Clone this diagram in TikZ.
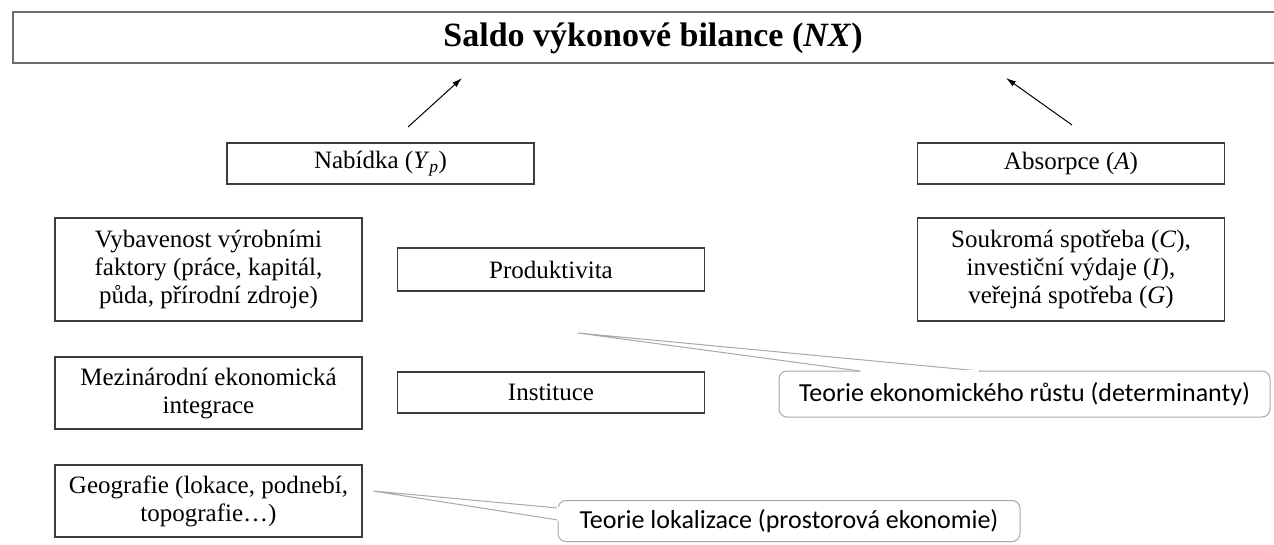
\documentclass[tikz,border=0pt]{standalone}
\usepackage{fontspec}
\setmainfont{Liberation Serif}
\newfontfamily\calib{Carlito}
\usetikzlibrary{arrows.meta}
\definecolor{boxline}{HTML}{3C3C3C}
\definecolor{titleline}{HTML}{6E6E6E}
\definecolor{callline}{HTML}{A8A8A8}
\tikzset{
  fbox/.style={draw=boxline, line width=1.2pt, minimum width=307pt, inner sep=0pt, align=center, font=\fontsize{25}{28}\selectfont},
  callbox/.style={draw=callline, line width=1pt, rounded corners=8pt, inner sep=0pt, font=\calib\fontsize{26}{28}\selectfont},
  wedge/.style={draw=callline, line width=1pt, fill=white},
  arr/.style={-{Latex[length=10pt,width=6pt]}, line width=1pt, black}
}
\begin{document}
\begin{tikzpicture}[x=1pt,y=-1pt]
\useasboundingbox (0,0) rectangle (1274,544);
% title
\node[draw=titleline, line width=2pt, minimum width=1290pt, minimum height=51pt, inner sep=0pt, anchor=west] (title) at (12,37) {};
\node[font=\bfseries\fontsize{34}{36}\selectfont, inner sep=0pt] (titletext) at (653,38) {Saldo výkonové bilance (\textit{NX})};
% arrows
\coordinate (a1s) at (408,127); \coordinate (a1e) at (462,78);
\coordinate (a2s) at (1072,125); \coordinate (a2e) at (1006,78);
\draw[arr] (a1s) -- (a1e);
\draw[arr] (a2s) -- (a2e);
% boxes
\node[fbox, minimum height=41pt] (nab) at (380.5,163.5) {Nabídka (\textit{Y}\textsubscript{\textit{p}})};
\node[fbox, minimum height=41pt] (abs) at (1071,163.5) {Absorpce (\textit{A})};
\node[fbox, minimum height=103pt] (vyb) at (208.5,269.5) {Vybavenost výrobními\\faktory (práce, kapitál,\\půda, přírodní zdroje)};
\node[fbox, minimum height=43pt] (prod) at (551,269.5) {Produktivita};
\node[fbox, minimum height=103pt] (souk) at (1071,269.5) {Soukromá spotřeba (\textit{C}),\\investiční výdaje (\textit{I}),\\veřejná spotřeba (\textit{G})};
\node[fbox, minimum height=72pt] (mez) at (208.5,393) {Mezinárodní ekonomická\\integrace};
\node[fbox, minimum height=41pt] (inst) at (551,392.5) {Instituce};
\node[fbox, minimum height=72pt] (geo) at (208.5,501) {Geografie (lokace, podnebí,\\topografie\dots)};
% callout 1
\node[callbox, minimum width=491pt, minimum height=46pt] (c1) at (1024.5,394) {Teorie ekonomického růstu (determinanty)};
\coordinate (t1) at (578,333);
\coordinate (b1a) at (860,371); \coordinate (b1b) at (980,371);
\filldraw[wedge] (b1a) -- (t1) -- (b1b);
\draw[white, line width=2pt] ([xshift=0.8pt]b1a) -- ([xshift=-0.8pt]b1b);
% callout 2
\node[callbox, minimum width=462pt, minimum height=41pt] (c2) at (789,521) {Teorie lokalizace (prostorová ekonomie)};
\coordinate (t2) at (373,491);
\coordinate (b2a) at (558,508); \coordinate (b2b) at (558,520);
\filldraw[wedge] (b2a) -- (t2) -- (b2b);
\draw[white, line width=2pt] ([yshift=0.8pt]b2a) -- ([yshift=-0.8pt]b2b);
\end{tikzpicture}
\end{document}
